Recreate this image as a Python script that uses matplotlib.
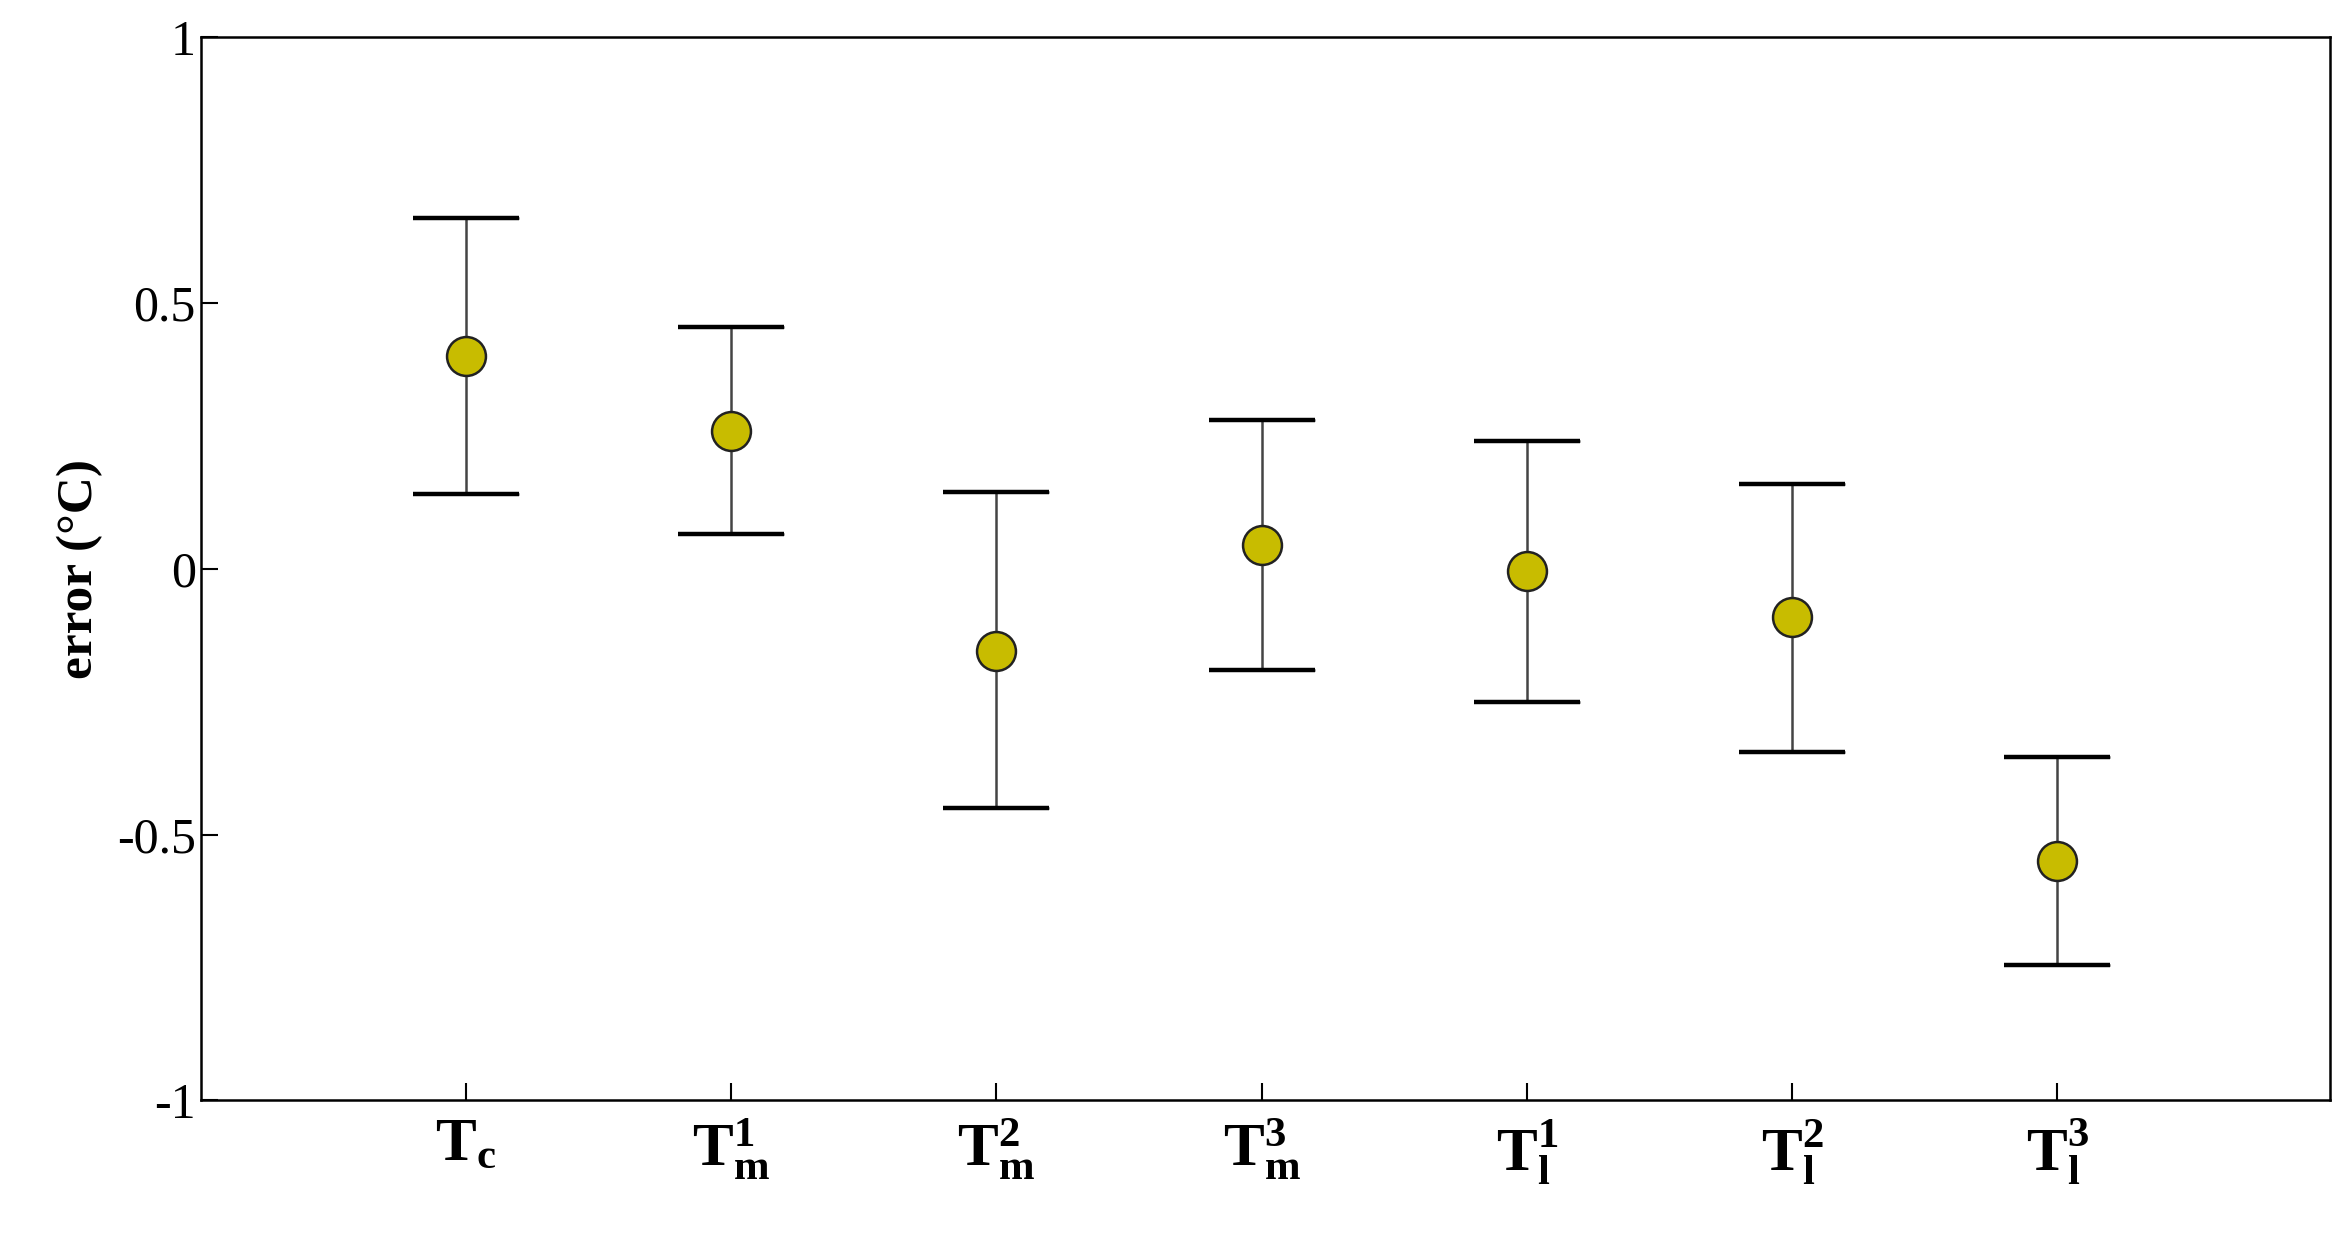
import numpy as np
import matplotlib
matplotlib.use('Agg')
from matplotlib import pyplot as plt

### DATA
labels = [r'$\mathbf{T_c}$', r'$\mathbf{T_m^1}$', r'$\mathbf{T_m^2}$', r'$\mathbf{T_m^3}$',
          r'$\mathbf{T_l^1}$', r'$\mathbf{T_l^2}$', r'$\mathbf{T_l^3}$']
means = [0.40, 0.26, -0.155, 0.045, -0.005, -0.09, -0.55]
upper = [0.66, 0.455, 0.145, 0.28, 0.24, 0.16, -0.355]
lower = [0.14, 0.065, -0.45, -0.19, -0.25, -0.345, -0.745]

### PLOT
plt.rcParams['font.family'] = 'Liberation Serif'
plt.rcParams['mathtext.fontset'] = 'custom'
plt.rcParams['mathtext.rm'] = 'Liberation Serif'
plt.rcParams['mathtext.bf'] = 'Liberation Serif:bold'
plt.rcParams['mathtext.it'] = 'Liberation Serif:italic'

fig = plt.figure(figsize=(23.35, 12.46), dpi=100)
ax = fig.add_axes([0.086, 0.117, 0.912, 0.853])

x = np.arange(1, len(means) + 1)
m = np.array(means)
yerr = [m - np.array(lower), np.array(upper) - m]
ax.errorbar(x, m, yerr=yerr, fmt='o', color='#444444', ecolor='#444444', elinewidth=1.8,
            capsize=38, capthick=3.2, markersize=28, markerfacecolor='#c8bc00',
            markeredgecolor='#222222', markeredgewidth=1.8)
ax.errorbar(x, m, yerr=yerr, fmt='none', ecolor='black', elinewidth=0, capsize=38, capthick=3.2)

ax.set_xlim(0, 8.03)
ax.set_ylim(-1, 1)
ax.set_xticks(x)
ax.set_xticklabels(labels, fontsize=44)
ax.set_yticks([-1, -0.5, 0, 0.5, 1])
ax.set_yticklabels(['-1', '-0.5', '0', '0.5', '1'], fontsize=36)
ax.tick_params(direction='in', length=12, width=1.5)
ax.tick_params(axis='x', pad=12)
for s in ax.spines.values():
    s.set_linewidth(1.8)
ax.set_ylabel('error (°C)', fontsize=37, fontweight='bold', labelpad=10)

fig.savefig('out.png', dpi=100)
